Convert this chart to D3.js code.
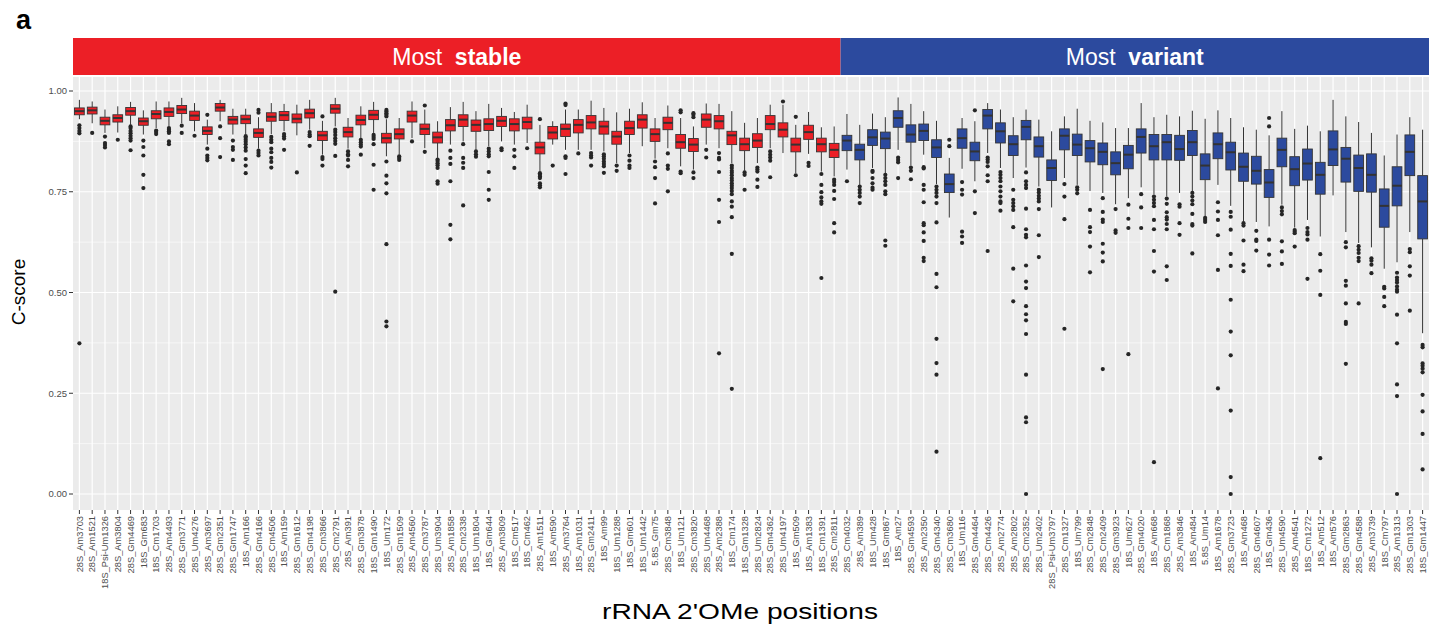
<!DOCTYPE html>
<html>
<head>
<meta charset="utf-8">
<script src="https://cdn.jsdelivr.net/npm/d3@7/dist/d3.min.js"></script>
<style>
  html, body { margin: 0; padding: 0; background: #ffffff; }
  svg { display: block; font-family: "Liberation Sans", Arial, sans-serif; }
</style>
</head>
<body>
<svg id="chart" width="1429" height="627"></svg>
<script>
// ---------------- DATA ----------------
const categories = [
  "28S_Am3703","28S_Am1521","18S_Psi-Um1326","28S_Am3804","28S_Gm4469","18S_Gm683","18S_Cm1703","28S_Am4493",
  "28S_Gm3771","28S_Um4276","28S_Am3697","28S_Gm2351","28S_Gm1747","18S_Am166","28S_Gm4166","28S_Cm4506",
  "18S_Am159","28S_Gm1612","28S_Gm4198","28S_Cm3866","28S_Cm2791","28S_Am391","28S_Gm3878","18S_Gm1490",
  "18S_Um172","28S_Gm1509","28S_Am4560","28S_Cm3787","28S_Um3904","28S_Am1858","28S_Cm2338","18S_Um1804",
  "18S_Gm644","28S_Am3809","18S_Cm517","18S_Cm462","28S_Am1511","18S_Am590","28S_Am3764","18S_Am1031",
  "28S_Gm2411","18S_Am99","18S_Um1288","18S_Gm601","18S_Um1442","5.8S_Gm75","28S_Cm3848","18S_Um121",
  "28S_Cm3820","28S_Um4468","28S_Am2388","18S_Cm174","18S_Gm1328","28S_Um2824","28S_Gm4362","28S_Um4197",
  "18S_Gm509","18S_Am1383","18S_Cm1391","28S_Cm2811",
  "28S_Cm4032","28S_Am389","18S_Um428","18S_Gm867","18S_Am27","28S_Gm4593","28S_Am2350","28S_Gm4340",
  "28S_Cm3680","18S_Um116","28S_Gm4464","28S_Cm4426","28S_Am2774","28S_Am2802","28S_Cm2352","28S_Um2402",
  "28S_Psi-Um3797","28S_Cm1327","18S_Um799","28S_Cm2848","28S_Cm2409","28S_Gm3923","18S_Um627","28S_Gm4020",
  "18S_Am668","28S_Cm1868","28S_Am3846","18S_Am484","5.8S_Um14","18S_Am1678","28S_Gm3723","18S_Am468",
  "28S_Gm4607","18S_Gm436","28S_Um4590","28S_Am4541","18S_Cm1272","18S_Am512","18S_Am576","28S_Gm2863",
  "28S_Gm4588","28S_Am3739","18S_Cm797","28S_Am1313","28S_Gm1303","18S_Gm1447"
];
const groups = ["Most stable", "Most variant"];
const stableCount = 60;   // first 60 categories are "Most stable", the rest "Most variant"

const whiskerLow = [
  0.93,0.92,0.896,0.897,0.916,0.892,0.908,0.912,0.92,0.9,0.867,0.925,0.892,0.893,0.857,0.893,
  0.9,0.89,0.904,0.842,0.912,0.857,0.883,0.896,0.838,0.842,0.883,0.858,0.834,0.867,0.875,0.854,
  0.863,0.875,0.867,0.871,0.8,0.867,0.854,0.854,0.854,0.85,0.821,0.846,0.863,0.832,0.858,0.813,
  0.805,0.867,0.858,0.821,0.802,0.821,0.858,0.846,0.796,0.844,0.8,0.788,
  0.805,0.767,0.809,0.796,0.854,0.815,0.842,0.769,0.686,0.807,0.776,0.846,0.809,0.784,0.81,0.763,
  0.711,0.784,0.767,0.752,0.747,0.719,0.734,0.761,0.743,0.738,0.747,0.751,0.689,0.767,0.715,0.676,
  0.675,0.664,0.718,0.661,0.68,0.639,0.741,0.65,0.623,0.612,0.559,0.575,0.65,0.399
];
const q1 = [
  0.941,0.943,0.916,0.923,0.94,0.915,0.931,0.937,0.944,0.927,0.892,0.95,0.918,0.919,0.885,0.925,
  0.927,0.921,0.933,0.877,0.945,0.886,0.916,0.929,0.871,0.881,0.923,0.892,0.871,0.901,0.912,0.9,
  0.902,0.912,0.901,0.906,0.844,0.881,0.887,0.896,0.906,0.893,0.868,0.892,0.908,0.875,0.904,0.858,
  0.85,0.91,0.906,0.867,0.852,0.86,0.904,0.886,0.849,0.88,0.849,0.835,
  0.852,0.829,0.865,0.857,0.91,0.873,0.877,0.835,0.748,0.858,0.827,0.906,0.871,0.84,0.879,0.836,
  0.778,0.854,0.84,0.824,0.817,0.792,0.807,0.846,0.829,0.829,0.828,0.84,0.78,0.832,0.804,0.776,
  0.769,0.736,0.812,0.765,0.779,0.744,0.815,0.774,0.751,0.749,0.662,0.715,0.79,0.633
];
const median = [
  0.95,0.952,0.926,0.933,0.95,0.925,0.943,0.948,0.954,0.939,0.901,0.959,0.929,0.93,0.896,0.936,
  0.94,0.931,0.945,0.89,0.956,0.898,0.928,0.941,0.883,0.893,0.939,0.906,0.885,0.915,0.929,0.916,
  0.918,0.926,0.918,0.923,0.86,0.897,0.906,0.916,0.922,0.912,0.887,0.908,0.929,0.893,0.921,0.873,
  0.867,0.929,0.925,0.89,0.868,0.877,0.918,0.904,0.867,0.898,0.868,0.854,
  0.877,0.854,0.885,0.882,0.933,0.892,0.901,0.86,0.769,0.883,0.85,0.939,0.9,0.868,0.911,0.863,
  0.809,0.889,0.867,0.858,0.849,0.821,0.842,0.886,0.863,0.873,0.856,0.873,0.815,0.868,0.848,0.812,
  0.802,0.773,0.854,0.806,0.82,0.792,0.855,0.832,0.809,0.792,0.715,0.765,0.849,0.726
];
const q3 = [
  0.958,0.96,0.935,0.941,0.959,0.933,0.951,0.958,0.964,0.95,0.911,0.969,0.937,0.94,0.906,0.946,
  0.949,0.943,0.955,0.9,0.966,0.91,0.94,0.952,0.895,0.906,0.95,0.918,0.898,0.929,0.941,0.928,
  0.931,0.937,0.931,0.935,0.873,0.912,0.918,0.929,0.939,0.925,0.9,0.925,0.941,0.906,0.935,0.892,
  0.882,0.943,0.939,0.9,0.883,0.894,0.939,0.921,0.883,0.915,0.883,0.87,
  0.89,0.868,0.904,0.898,0.951,0.916,0.918,0.879,0.794,0.906,0.873,0.954,0.921,0.889,0.927,0.886,
  0.829,0.906,0.893,0.877,0.871,0.849,0.865,0.906,0.892,0.892,0.89,0.902,0.844,0.896,0.873,0.846,
  0.838,0.805,0.883,0.837,0.856,0.823,0.901,0.86,0.841,0.844,0.757,0.812,0.891,0.79
];
const whiskerHigh = [
  0.978,0.974,0.954,0.962,0.973,0.952,0.974,0.974,0.983,0.97,0.929,0.978,0.956,0.956,0.935,0.97,
  0.968,0.966,0.978,0.926,0.983,0.933,0.962,0.973,0.93,0.933,0.974,0.954,0.925,0.96,0.973,0.95,
  0.968,0.958,0.948,0.966,0.916,0.925,0.954,0.954,0.976,0.958,0.947,0.956,0.972,0.933,0.964,0.933,
  0.912,0.969,0.968,0.95,0.921,0.933,0.966,0.966,0.916,0.948,0.91,0.912,
  0.943,0.916,0.944,0.935,0.984,0.968,0.95,0.926,0.834,0.933,0.925,0.97,0.954,0.935,0.954,0.929,
  0.9,0.937,0.956,0.926,0.922,0.908,0.908,0.97,0.935,0.941,0.937,0.951,0.931,0.952,0.933,0.91,
  0.904,0.89,0.95,0.906,0.914,0.9,0.978,0.937,0.923,0.896,0.84,0.892,0.935,0.904
];
const outliers = [
  [0.915,0.908,0.901,0.895,0.374],
  [0.896],
  [0.887,0.871,0.866,0.86],
  [0.879],
  [0.912,0.908,0.901,0.895,0.889,0.883,0.877,0.853],
  [0.877,0.861,0.84,0.792,0.759],
  [0.902,0.898,0.893],
  [0.908,0.904,0.9,0.896,0.875,0.868],
  [0.914,0.896],
  [0.889],
  [0.941,0.857,0.84,0.834,0.828],
  [0.912,0.883,0.836],
  [0.877,0.861,0.854,0.829],
  [0.888,0.884,0.879,0.874,0.868,0.86,0.852,0.831,0.815,0.796],
  [0.953,0.946,0.852,0.846,0.84],
  [0.886,0.879,0.873,0.857,0.848,0.834,0.824,0.81],
  [0.893,0.888,0.882,0.854],
  [0.798],
  [0.898,0.892,0.888,0.864],
  [0.937,0.836,0.831,0.815],
  [0.904,0.898,0.891,0.883,0.876,0.869,0.839,0.502],
  [0.85,0.843,0.84,0.829,0.813],
  [0.879,0.873,0.867,0.862,0.842],
  [0.891,0.886,0.881,0.868,0.817,0.755],
  [0.953,0.949,0.945,0.941,0.937,0.825,0.79,0.771,0.746,0.62,0.428,0.416],
  [0.838,0.834,0.829],
  [0.875],
  [0.964,0.849],
  [0.83,0.826,0.821,0.816,0.809,0.776,0.77],
  [0.852,0.834,0.819,0.776,0.668,0.632],
  [0.868,0.834,0.822,0.809,0.716],
  [0.85,0.843,0.837],
  [0.857,0.85,0.843,0.838,0.799,0.755,0.73],
  [0.858,0.853],
  [0.854,0.838,0.809],
  [0.858],
  [0.93,0.796,0.792,0.788,0.784,0.771,0.766,0.761],
  [0.815],
  [0.969,0.965,0.838,0.834,0.794],
  [0.845],
  [0.846,0.84,0.835,0.815],
  [0.843,0.838,0.832,0.825,0.819,0.813,0.797],
  [0.815,0.802],
  [0.84,0.827,0.815,0.809],
  [],
  [0.825,0.811,0.784,0.721],
  [0.845,0.815,0.807,0.751],
  [0.952,0.947,0.8,0.796],
  [0.945,0.941,0.935,0.798,0.784],
  [0.854,0.835],
  [0.846,0.834,0.83,0.799,0.73,0.675,0.349],
  [0.815,0.809,0.802,0.797,0.791,0.784,0.778,0.771,0.765,0.759,0.752,0.744,0.726,0.713,0.687,0.596,0.261],
  [0.798,0.792,0.755],
  [0.81,0.805,0.8,0.78,0.762],
  [0.85,0.842,0.835,0.827,0.786],
  [0.974],
  [0.936,0.791],
  [0.822,0.814],
  [0.794,0.767,0.749,0.736,0.726,0.72,0.536],
  [0.78,0.774,0.767,0.752,0.732,0.672,0.649],
  [0.776],
  [0.763,0.755,0.747,0.738,0.722],
  [0.802,0.799,0.784,0.771,0.76,0.755],
  [0.792,0.784,0.776,0.767,0.751,0.744,0.629,0.616],
  [0.835,0.829,0.823,0.784],
  [0.81,0.802,0.781],
  [0.811,0.808,0.767,0.755,0.724,0.672,0.667,0.649,0.628,0.586,0.578],
  [0.763,0.755,0.747,0.738,0.722,0.674,0.546,0.513,0.385,0.325,0.296,0.105],
  [0.879,0.863],
  [0.774,0.755,0.743,0.651,0.639,0.623],
  [0.952,0.751,0.697],
  [0.835,0.83,0.824,0.813,0.791,0.776,0.603],
  [0.799,0.792,0.784,0.776,0.763,0.751,0.738,0.726,0.722,0.703],
  [0.755,0.73,0.722,0.714,0.705,0.662,0.559,0.478],
  [0.798,0.776,0.767,0.759,0.708,0.657,0.643,0.637,0.567,0.527,0.511,0.466,0.446,0.431,0.397,0.296,0.19,0.178,0.0],
  [0.755,0.748,0.74,0.733,0.726,0.707,0.642,0.588],
  [],
  [0.769,0.738,0.682,0.41],
  [0.761,0.755,0.746],
  [0.705,0.662,0.65,0.614,0.55],
  [0.734,0.7,0.681,0.675,0.621,0.599,0.577,0.31],
  [0.707,0.654,0.648],
  [0.718,0.683,0.66,0.347],
  [0.744,0.711,0.66],
  [0.738,0.73,0.722,0.714,0.68,0.657,0.603,0.552,0.079],
  [0.733,0.72,0.699,0.687,0.681,0.67,0.657,0.565,0.531],
  [0.719,0.713,0.672,0.643],
  [0.747,0.738,0.728,0.719,0.695,0.67,0.666,0.597],
  [0.685,0.68,0.675],
  [0.724,0.701,0.68,0.642,0.556,0.262],
  [0.7,0.688,0.656,0.596,0.566,0.482,0.403,0.344,0.207,0.042,0.0],
  [0.672,0.666,0.629,0.569,0.553],
  [0.653,0.631,0.628,0.604],
  [0.933,0.912,0.631,0.594,0.567],
  [0.711,0.702,0.694,0.627,0.602,0.571],
  [0.655,0.651,0.647,0.614],
  [0.66,0.65,0.644,0.631,0.534],
  [0.595,0.554,0.494,0.089],
  [],
  [0.625,0.612,0.529,0.517,0.473,0.427,0.422,0.323],
  [0.615,0.606,0.598,0.586,0.578,0.473],
  [0.585,0.579,0.569,0.548],
  [0.514,0.51,0.489,0.466],
  [0.549,0.537,0.531,0.525,0.515,0.507,0.502,0.445,0.374,0.272,0.243,0.0],
  [0.608,0.6,0.565,0.542,0.455],
  [0.37,0.364,0.324,0.318,0.311,0.302,0.246,0.205,0.149,0.061]
];
const yTicks = [0, 0.25, 0.5, 0.75, 1.0];
const yMinor = [0.125, 0.375, 0.625, 0.875];

// ---------------- LAYOUT ----------------
const panel = { left: 73, right: 1429, top: 77, bottom: 510 };
const strip = { top: 38, bottom: 75 };
const colors = { stable: "#EC1F26", variant: "#2C4A9E", panel: "#EBEBEB", line: "#333333" };

const svg = d3.select("#chart");

const x = d3.scaleBand().domain(categories).range([panel.left, panel.right]).padding(0);
const y = d3.scaleLinear().domain([0, 1]).range([494, 91]);

// panel background
svg.append("rect").attr("x", panel.left).attr("y", panel.top)
  .attr("width", panel.right - panel.left).attr("height", panel.bottom - panel.top)
  .attr("fill", colors.panel);

// minor grid
svg.append("g").selectAll("line").data(yMinor).join("line")
  .attr("x1", panel.left).attr("x2", panel.right)
  .attr("y1", d => y(d)).attr("y2", d => y(d))
  .attr("stroke", "#fff").attr("stroke-width", 0.6);
// major grid
svg.append("g").selectAll("line").data(yTicks).join("line")
  .attr("x1", panel.left).attr("x2", panel.right)
  .attr("y1", d => y(d)).attr("y2", d => y(d))
  .attr("stroke", "#fff").attr("stroke-width", 1.2);
svg.append("g").selectAll("line").data(categories).join("line")
  .attr("x1", d => x(d) + x.bandwidth() / 2).attr("x2", d => x(d) + x.bandwidth() / 2)
  .attr("y1", panel.top).attr("y2", panel.bottom)
  .attr("stroke", "#fff").attr("stroke-width", 1.2);

// strips
const stripData = [
  { label: "Most", bold: "stable", from: 0, to: stableCount - 1, color: colors.stable },
  { label: "Most", bold: "variant", from: stableCount, to: categories.length - 1, color: colors.variant }
];
const sg = svg.append("g");
stripData.forEach(s => {
  const x0 = x(categories[s.from]);
  const x1 = x(categories[s.to]) + x.bandwidth();
  sg.append("rect").attr("x", x0).attr("y", strip.top).attr("width", x1 - x0)
    .attr("height", strip.bottom - strip.top).attr("fill", s.color);
  const t = sg.append("text").attr("x", (x0 + x1) / 2).attr("y", 65)
    .attr("text-anchor", "middle").attr("fill", "#fff").attr("font-size", 23);
  t.append("tspan").text(s.label + "\u00a0\u00a0");
  t.append("tspan").attr("font-weight", "bold").text(s.bold);
});

// boxplots
const boxData = categories.map((c, i) => ({
  cat: c, i,
  lo: whiskerLow[i], q1: q1[i], med: median[i], q3: q3[i], hi: whiskerHigh[i],
  out: outliers[i],
  fill: i < stableCount ? colors.stable : colors.variant
}));
const bw = x.bandwidth() * 0.76;
const bg = svg.append("g");
const box = bg.selectAll("g.box").data(boxData).join("g").attr("class", "box")
  .attr("transform", d => `translate(${x(d.cat) + x.bandwidth() / 2},0)`);

box.append("line").attr("x1", 0).attr("x2", 0)
  .attr("y1", d => y(d.q3)).attr("y2", d => y(d.hi))
  .attr("stroke", colors.line).attr("stroke-width", 1);
box.append("line").attr("x1", 0).attr("x2", 0)
  .attr("y1", d => y(d.q1)).attr("y2", d => y(d.lo))
  .attr("stroke", colors.line).attr("stroke-width", 1);
box.append("rect").attr("x", -bw / 2).attr("width", bw)
  .attr("y", d => y(d.q3)).attr("height", d => y(d.q1) - y(d.q3))
  .attr("fill", d => d.fill).attr("stroke", colors.line).attr("stroke-width", 0.9);
box.append("line").attr("x1", -bw / 2).attr("x2", bw / 2)
  .attr("y1", d => y(d.med)).attr("y2", d => y(d.med))
  .attr("stroke", colors.line).attr("stroke-width", 2);
box.selectAll("circle").data(d => d.out).join("circle")
  .attr("cx", 0).attr("cy", v => y(v)).attr("r", 2.1).attr("fill", "#262626");

// y axis
const ya = svg.append("g");
ya.selectAll("line").data(yTicks).join("line")
  .attr("x1", panel.left - 4).attr("x2", panel.left)
  .attr("y1", d => y(d)).attr("y2", d => y(d))
  .attr("stroke", "#333").attr("stroke-width", 1);
ya.selectAll("text").data(yTicks).join("text")
  .attr("x", panel.left - 6).attr("y", d => y(d)).attr("dy", "0.35em")
  .attr("text-anchor", "end").attr("font-size", 9.5).attr("fill", "#4D4D4D")
  .text(d => d3.format(".2f")(d));

// x axis
const xa = svg.append("g");
xa.selectAll("line").data(categories).join("line")
  .attr("x1", d => x(d) + x.bandwidth() / 2).attr("x2", d => x(d) + x.bandwidth() / 2)
  .attr("y1", panel.bottom).attr("y2", panel.bottom + 4)
  .attr("stroke", "#333").attr("stroke-width", 1);
xa.selectAll("text").data(categories).join("text")
  .attr("transform", d => `translate(${x(d) + x.bandwidth() / 2 + 3.3},${panel.bottom + 6}) rotate(-90)`)
  .attr("text-anchor", "end").attr("font-size", 9.3).attr("fill", "#4D4D4D")
  .text(d => d);

// titles
svg.append("text").attr("transform", "translate(25,292) rotate(-90)")
  .attr("text-anchor", "middle").attr("font-size", 19).attr("fill", "#000").text("C-score");
svg.append("text").attr("transform", "translate(740,619) scale(1.28,1)")
  .attr("text-anchor", "middle").attr("font-size", 22).attr("fill", "#000")
  .text("rRNA 2'OMe positions");
svg.append("text").attr("x", 16).attr("y", 29)
  .attr("font-size", 27).attr("font-weight", "bold").attr("fill", "#000").text("a");
</script>
</body>
</html>
